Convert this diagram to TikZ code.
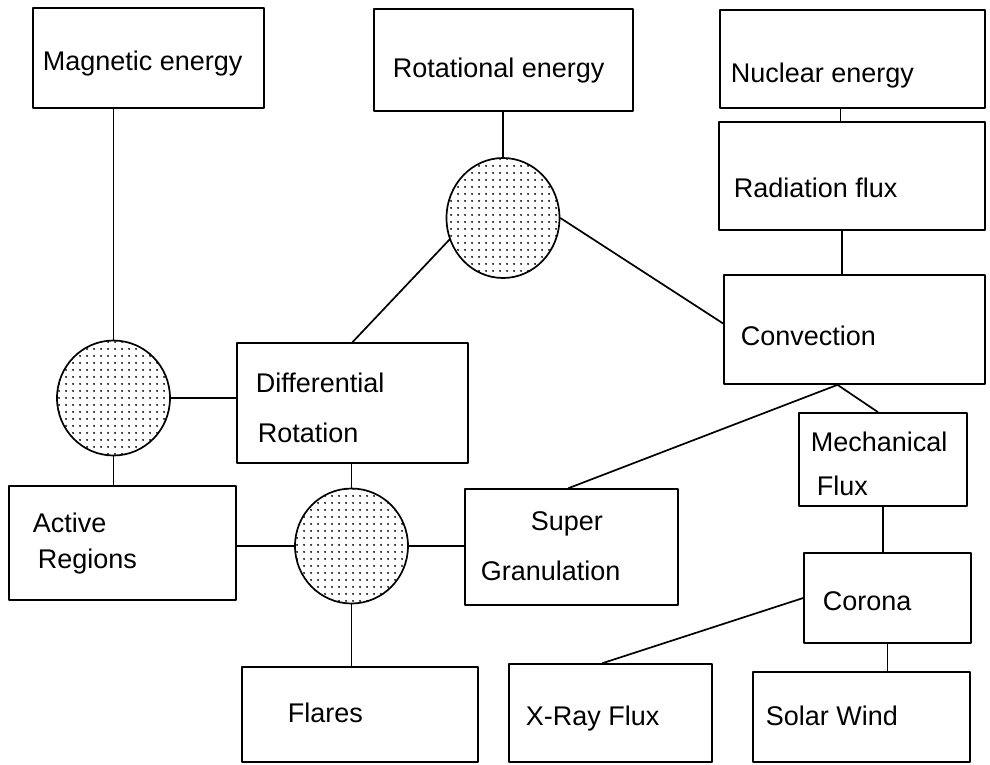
\documentclass[tikz,border=0pt]{standalone}
\usepackage{fontspec}
\setmainfont{Liberation Sans}
\usetikzlibrary{shapes.geometric,patterns}
\pgfdeclarepatternformonly{sundots}{\pgfpointorigin}{\pgfpoint{7pt}{7pt}}{\pgfpoint{7pt}{7pt}}{%
	\pgfpathcircle{\pgfpoint{3.5pt}{3.5pt}}{1.15pt}\pgfusepath{fill}}
\begin{document}
\begin{tikzpicture}[x=1pt, y=-1pt, line width=1.7pt, line join=round, line cap=round,
		box/.style={draw, rectangle, inner sep=0pt},
		hub/.style={draw, ellipse, pattern=sundots, inner sep=0pt, minimum width=113pt, minimum height=115pt},
		txt/.style={anchor=base west, inner sep=0pt, font=\fontsize{27}{30}\selectfont}]
	\useasboundingbox (0,0) rectangle (990,764);
	% boxes: name/x/y/width/height
	\foreach \n/\x/\y/\w/\h in {mag/148.5/58/231/100, rot/503.5/60/259/102, nuc/852.5/59/265/98,
			rad/852/176/266/108, conv/854.5/329.5/261/109, diff/352.5/403/231/120,
			act/122.5/543/227/114, sup/571.5/547/213/116, mech/883/459.5/168/93,
			cor/887.5/598/167/90, fla/360/714.5/236/95, xr/610.5/713/203/98, sw/861.5/717/217/90}
		\node[box, minimum width=\w pt, minimum height=\h pt] (\n) at (\x,\y) {};
	% dotted circles
	\node[hub] (mc) at (113.5,398) {};
	\node[hub, minimum height=120pt] (rc) at (503,218) {};
	\node[hub] (bc) at (351.5,546) {};
	% texts
	\foreach \n/\x/\y/\t in {t-mag/42/70/Magnetic energy, t-rot/392/77/Rotational energy,
			t-nuc/730/82/Nuclear energy, t-rad/733/197/Radiation flux, t-conv/740/345/Convection,
			t-diff1/255/392/Differential, t-diff2/257/442/Rotation, t-act1/32/532/Active,
			t-act2/37/568/Regions, t-sup1/530/530/Super, t-sup2/480/580/Granulation,
			t-mech1/810/451/Mechanical, t-mech2/816/495/Flux, t-cor/822/610/Corona,
			t-fla/287/722/Flares, t-xr/525/725/X-Ray Flux, t-sw/765/725/Solar Wind}
		\node[txt] (\n) at (\x,\y) {\t};
	% connectors
	\draw (mc.north) -- (mc.north |- mag.south);
	\draw (mc.east) -- (mc.east -| diff.west);
	\draw (mc.south) -- (mc.south |- act.north);
	\draw (rc.north) -- (rc.north |- rot.south);
	\draw (rc.202) -- (diff.north);
	\draw (rc.east) -- ([yshift=6pt]conv.west);
	\draw ([xshift=-12pt]nuc.south) -- ([xshift=-12pt]nuc.south |- rad.north);
	\draw ([xshift=-10pt]rad.south) -- ([xshift=-10pt]rad.south |- conv.north);
	\coordinate (cv) at ([xshift=-17pt]conv.south);
	\draw (cv) -- ([xshift=-3pt]sup.north);
	\draw (cv) -- ([xshift=-5pt]mech.north);
	\draw (mech.south) -- (mech.south |- cor.north);
	\draw (cor.west) -- ([xshift=-8pt]xr.north);
	\draw (cor.south) -- (cor.south |- sw.north);
	\draw (bc.north) -- (bc.north |- diff.south);
	\draw (bc.west) -- (bc.west -| act.east);
	\draw (bc.east) -- (bc.east -| sup.west);
	\draw (bc.south) -- (bc.south |- fla.north);
\end{tikzpicture}
\end{document}
